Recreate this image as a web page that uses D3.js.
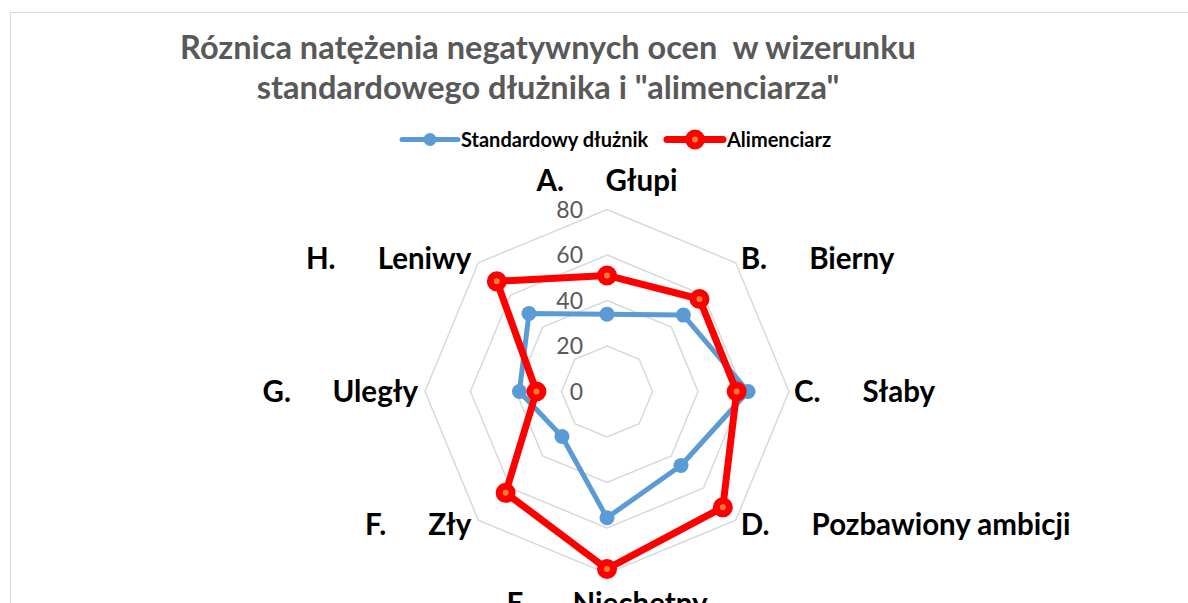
<!DOCTYPE html>
<html>
<head>
<meta charset="utf-8">
<script src="https://cdn.jsdelivr.net/npm/d3@7"></script>
<style>
  html, body { margin: 0; padding: 0; background: #fff; overflow: hidden; }
  svg { display: block; }
</style>
</head>
<body>
<svg id="chart" width="1188" height="603"></svg>
<script>
// ---- data ----
const titleLines = ["Róznica natężenia negatywnych ocen  w wizerunku", "standardowego dłużnika i \"alimenciarza\""];
const prefixes = ["A.", "B.", "C.", "D.", "E.", "F.", "G.", "H."];
const categories = ["Głupi", "Bierny", "Słaby", "Pozbawiony ambicji", "Niechętny", "Zły", "Uległy", "Leniwy"];
const seriesNames = ["Standardowy dłużnik", "Alimenciarz"];
const standardowy = [34, 47.5, 62, 46, 55.5, 28, 38.5, 48.5];
const alimenciarz = [51, 57.5, 57, 72, 78, 63, 31, 68.5];
const tickValues = [0, 20, 40, 60, 80];

// ---- layout ----
const svg = d3.select("#chart");
const cx = 607, cy = 391.5, R = 182;
const r = d3.scaleLinear().domain([0, 80]).range([0, R]);
const n = categories.length;
const ang = d3.scaleLinear().domain([0, n]).range([0, 2 * Math.PI]);
const blue = "#5B9BD5", red = "#FF0000";

// frame
svg.append("rect").attr("x", 10.5).attr("y", 12.5).attr("width", 1400).attr("height", 800)
  .attr("fill", "none").attr("stroke", "#d9d9d9").attr("stroke-width", 1);

// title
svg.append("g").selectAll("text").data(titleLines).join("text")
  .attr("x", 548).attr("y", (d, i) => 59 + i * 40)
  .attr("text-anchor", "middle")
  .attr("font-family", "Lato, 'Open Sans', sans-serif")
  .attr("font-weight", "bold").attr("font-size", 32.5)
  .attr("fill", "#595959")
  .style("white-space", "pre")
  .text(d => d);

// legend
const legend = svg.append("g").attr("font-family", "Lato, sans-serif").attr("font-weight", "bold").attr("font-size", 20);
const legendItems = [
  { name: seriesNames[0], color: blue, x0: 402, x1: 458, tx: 461, big: false },
  { name: seriesNames[1], color: red, x0: 667, x1: 723, tx: 727, big: true }
];
legendItems.forEach(it => {
  legend.append("line").attr("x1", it.x0).attr("x2", it.x1).attr("y1", 139.5).attr("y2", 139.5)
    .attr("stroke", it.color).attr("stroke-width", it.big ? 7 : 5).attr("stroke-linecap", "round");
  if (it.big) {
    legend.append("circle").attr("cx", (it.x0 + it.x1) / 2).attr("cy", 139.5).attr("r", 6.5)
      .attr("fill", "#ED7D31").attr("stroke", red).attr("stroke-width", 7);
  } else {
    legend.append("circle").attr("cx", (it.x0 + it.x1) / 2).attr("cy", 139.5).attr("r", 6.5).attr("fill", blue);
  }
  legend.append("text").attr("x", it.tx).attr("y", 139.5).attr("dy", "0.35em").attr("fill", "#000").text(it.name);
});

const g = svg.append("g").attr("transform", `translate(${cx},${cy})`);

// grid rings
const ringLine = d3.lineRadial().angle((d, i) => ang(i)).radius(d => r(d)).curve(d3.curveLinearClosed);
g.append("g").selectAll("path").data(tickValues.filter(v => v > 0)).join("path")
  .attr("d", v => ringLine(d3.range(n).map(() => v)))
  .attr("fill", "none").attr("stroke", "#d9d9d9").attr("stroke-width", 1.5);

// tick labels
g.append("g").selectAll("text").data(tickValues).join("text")
  .attr("x", -24).attr("y", v => -r(v)).attr("dy", "0.36em")
  .attr("text-anchor", "end")
  .attr("font-family", "Lato, sans-serif").attr("font-size", 23)
  .attr("fill", "#595959")
  .text(v => v);

// series
const seriesLine = d3.lineRadial().angle((d, i) => ang(i)).radius(d => r(d)).curve(d3.curveLinearClosed);
const pt = (v, i) => [r(v) * Math.sin(ang(i)), -r(v) * Math.cos(ang(i))];

g.append("path").attr("d", seriesLine(standardowy)).attr("fill", "none")
  .attr("stroke", blue).attr("stroke-width", 5).attr("stroke-linejoin", "round");
g.append("g").selectAll("circle").data(standardowy).join("circle")
  .attr("cx", (d, i) => pt(d, i)[0]).attr("cy", (d, i) => pt(d, i)[1])
  .attr("r", 7.5).attr("fill", blue);

g.append("path").attr("d", seriesLine(alimenciarz)).attr("fill", "none")
  .attr("stroke", red).attr("stroke-width", 7).attr("stroke-linejoin", "round");
g.append("g").selectAll("circle").data(alimenciarz).join("circle")
  .attr("cx", (d, i) => pt(d, i)[0]).attr("cy", (d, i) => pt(d, i)[1])
  .attr("r", 6.5).attr("fill", "#ED7D31").attr("stroke", red).attr("stroke-width", 7);

// category labels
const labG = g.append("g").attr("font-family", "Lato, sans-serif").attr("font-weight", "bold")
  .attr("font-size", 29.5).attr("fill", "#000");
categories.forEach((c, i) => {
  const a = ang(i);
  const vx = R * Math.sin(a), vy = -R * Math.cos(a);
  let anchor = "middle", x = vx, y = vy, dy = "0.35em";
  if (i === 0) { y = vy - 19; dy = "0"; }
  else if (i === 4) { y = vy + 19; dy = "0.72em"; }
  else if (i < 4) { anchor = "start"; x = vx + 5; y = vy - 6 * Math.cos(a); }
  else { anchor = "end"; x = vx - 7; y = vy - 6 * Math.cos(a); }
  const t = labG.append("text").attr("x", x).attr("y", y).attr("dy", dy).attr("text-anchor", anchor);
  t.append("tspan").text(prefixes[i]);
  t.append("tspan").attr("dx", 42).text(c);
});
</script>
</body>
</html>
